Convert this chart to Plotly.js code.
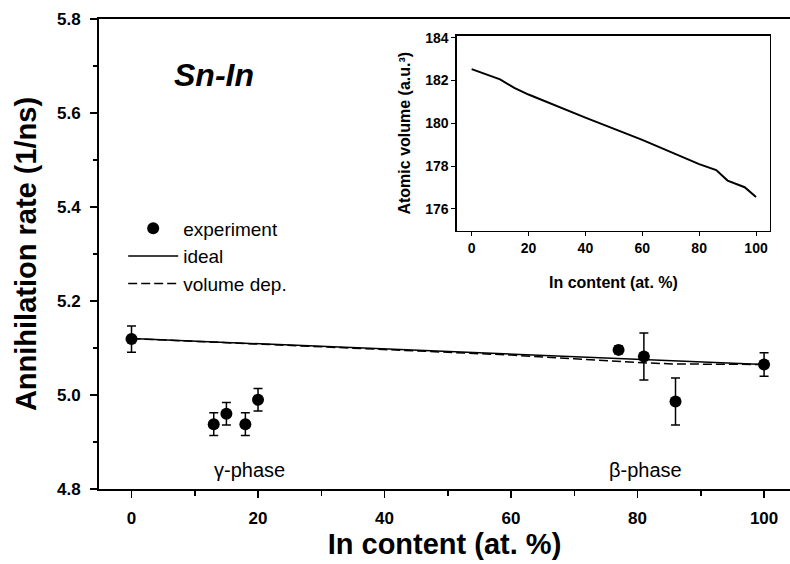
<!DOCTYPE html>
<html>
<head>
<meta charset="utf-8">
<script src="https://cdn.plot.ly/plotly-3.0.1.min.js"></script>
<style>html,body{margin:0;padding:0;background:#fff;overflow:hidden}</style>
</head>
<body>
<div id="chart" style="width:790px;height:564px"></div>
<script>
// Experimental annihilation rates
var expX = [0, 13, 15, 18, 20, 77, 81, 86, 100];
var expY = [5.119, 4.938, 4.960, 4.938, 4.990, 5.096, 5.082, 4.986, 5.065];
var expErr = [0.028, 0.024, 0.024, 0.024, 0.024, 0.008, 0.050, 0.050, 0.025];

// Ideal model line
var idealX = [0, 100];
var idealY = [5.120, 5.065];

// Volume dependent model line
var volX = [0, 20, 40, 60, 70, 80, 86, 90, 100];
var volY = [5.120, 5.108, 5.097, 5.085, 5.077, 5.069, 5.066, 5.066, 5.065];

// Inset: atomic volume
var insetX = [0, 5, 10, 15, 20, 40, 60, 80, 86, 90, 96, 100];
var insetY = [182.53, 182.30, 182.05, 181.65, 181.34, 180.26, 179.22, 178.09, 177.81, 177.32, 177.01, 176.55];

var FONT = "Arial, 'Liberation Sans', sans-serif";

var traces = [
  {x: expX, y: expY, type: 'scatter', mode: 'markers', name: 'experiment',
   marker: {color: '#000', size: 12},
   error_y: {type: 'data', array: expErr, visible: true, color: '#000', thickness: 1.5, width: 4.5}},
  {x: idealX, y: idealY, type: 'scatter', mode: 'lines', name: 'ideal',
   line: {color: '#000', width: 1.5}},
  {x: volX, y: volY, type: 'scatter', mode: 'lines', name: 'volume dep.',
   line: {color: '#000', width: 1.5, dash: '9px,4px'}},
  {x: insetX, y: insetY, type: 'scatter', mode: 'lines', xaxis: 'x2', yaxis: 'y2',
   showlegend: false, line: {color: '#000', width: 2}}
];

var layout = {
  width: 790, height: 564,
  margin: {l: 99, r: 0, t: 19, b: 75},
  paper_bgcolor: '#fff', plot_bgcolor: 'rgba(0,0,0,0)',
  font: {family: FONT, color: '#000'},
  showlegend: true,
  legend: {x: 0.035, y: 0.495, xanchor: 'left', yanchor: 'middle', bgcolor: 'rgba(0,0,0,0)',
           font: {size: 19, family: FONT}, traceorder: 'normal', itemwidth: 50},
  xaxis: {
    range: [-5.14, 104.1], domain: [0, 1],
    tickvals: [0, 20, 40, 60, 80, 100], ticks: 'outside', ticklen: 7, tickwidth: 1.5,
    tickcolor: '#000', ticklabelstandoff: 6,
    minor: {tickvals: [10, 30, 50, 70, 90], ticks: 'outside', ticklen: 5, tickwidth: 1.5, tickcolor: '#000'},
    showline: true, linewidth: 2, linecolor: '#000', mirror: true,
    showgrid: false, zeroline: false,
    tickfont: {size: 17, family: FONT, weight: 'bold'},
    title: {text: '<b>In content (at. %)</b>', font: {size: 29, family: FONT}, standoff: 6}
  },
  yaxis: {
    range: [4.8, 5.8], domain: [0, 1],
    tickvals: [4.8, 5.0, 5.2, 5.4, 5.6, 5.8], ticktext: ['4.8', '5.0', '5.2', '5.4', '5.6', '5.8'],
    ticks: 'outside', ticklen: 7, tickwidth: 1.5, tickcolor: '#000', ticklabelstandoff: 6,
    minor: {tickvals: [4.9, 5.1, 5.3, 5.5, 5.7], ticks: 'outside', ticklen: 4, tickwidth: 1.5, tickcolor: '#000'},
    showline: true, linewidth: 2, linecolor: '#000',
    showgrid: false, zeroline: false,
    tickfont: {size: 17, family: FONT, weight: 'bold'},
    title: {text: '<b>Annihilation rate (1/ns)</b>', font: {size: 29, family: FONT}, standoff: 12}
  },
  xaxis2: {
    anchor: 'y2', domain: [0.518, 0.971], range: [-5.17, 104.9],
    tickvals: [0, 20, 40, 60, 80, 100], ticks: 'outside', ticklen: 4, tickwidth: 1, tickcolor: '#000',
    showline: true, linewidth: 1.5, linecolor: '#000', mirror: true,
    showgrid: false, zeroline: false,
    tickfont: {size: 14, family: FONT, weight: 'bold'},
    title: {text: '<b>In content (at. %)</b>', font: {size: 16, family: FONT}, standoff: 22}
  },
  yaxis2: {
    anchor: 'x2', domain: [0.5496, 0.9645], range: [174.98, 184.09],
    tickvals: [176, 178, 180, 182, 184], ticks: 'outside', ticklen: 4, tickwidth: 1, tickcolor: '#000',
    showline: true, linewidth: 1.5, linecolor: '#000', mirror: true,
    showgrid: false, zeroline: false,
    tickfont: {size: 14, family: FONT, weight: 'bold'},
    title: {text: '<b>Atomic volume (a.u.³)</b>', font: {size: 16, family: FONT}, standoff: 10}
  },
  annotations: [
    {x: 13.0, y: 5.681, xref: 'x', yref: 'y', text: '<b><i>Sn-In</i></b>', showarrow: false,
     font: {size: 32, family: FONT}, xanchor: 'center', yanchor: 'middle'},
    {x: 18.7, y: 4.840, xref: 'x', yref: 'y', text: 'γ-phase', showarrow: false,
     font: {size: 20, family: FONT}, xanchor: 'center', yanchor: 'middle'},
    {x: 81.3, y: 4.840, xref: 'x', yref: 'y', text: 'β-phase', showarrow: false,
     font: {size: 20, family: FONT}, xanchor: 'center', yanchor: 'middle'}
  ]
};

Plotly.newPlot('chart', traces, layout, {displayModeBar: false, staticPlot: true});
</script>
</body>
</html>
